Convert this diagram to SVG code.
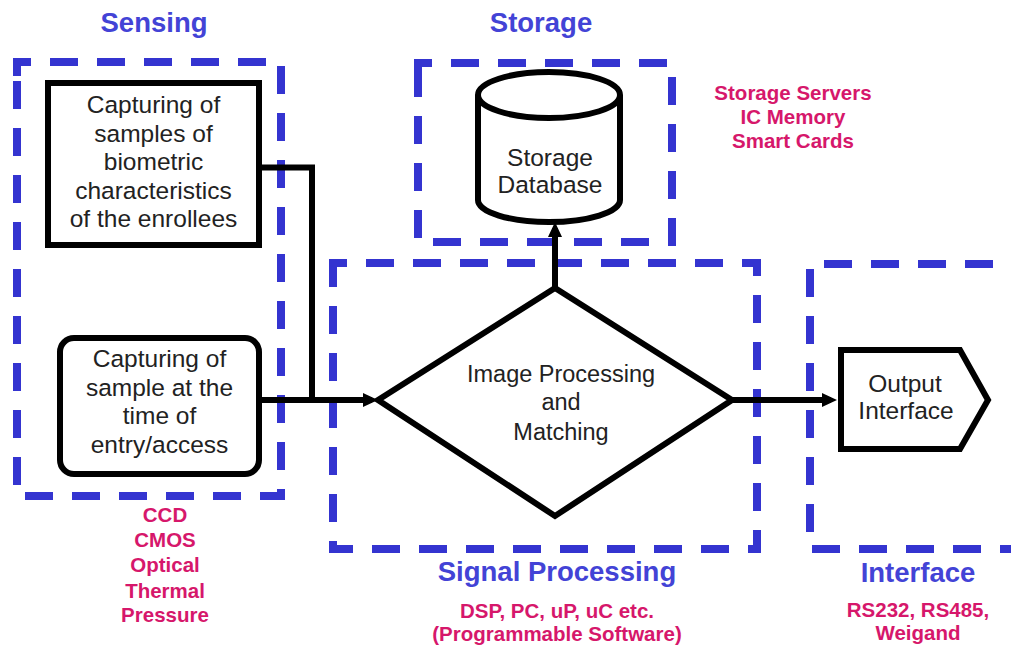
<svg xmlns="http://www.w3.org/2000/svg" width="1011" height="646" viewBox="0 0 1011 646">
  <style>
    .zone { fill: none; stroke: #3434d0; stroke-width: 8; stroke-dasharray: 28 19; }
    .shape { fill: #ffffff; stroke: #000000; stroke-width: 6; stroke-linejoin: miter; }
    .wire { fill: none; stroke: #000000; stroke-width: 6; }
    .txt { font-family: "Liberation Sans", Arial, sans-serif; font-size: 24.5px; fill: #222222; text-anchor: middle; }
    .head { font-family: "Liberation Sans", Arial, sans-serif; font-size: 27.5px; font-weight: bold; fill: #4343d6; text-anchor: middle; }
    .tech { font-family: "Liberation Sans", Arial, sans-serif; font-size: 20.5px; font-weight: bold; fill: #d6176b; text-anchor: middle; }
  </style>
  <defs>
    <marker id="arrow" markerUnits="userSpaceOnUse" markerWidth="16" markerHeight="16" refX="9" refY="7" orient="auto">
      <path d="M0,0 L15,7 L0,14 Z" fill="#000000"/>
    </marker>
  </defs>

  <rect width="1011" height="646" fill="#ffffff"/>

  <!-- dashed zones -->
  <g id="zones">
    <path class="zone" d="M17,76 L17,62 L281,62 L281,496 L17,496 Z"/>
    <path class="zone" d="M418,77 L418,63 L672,63 L672,242 L418,242 Z"/>
    <path class="zone" d="M333,277 L333,263 L757,263 L757,549 L333,549 Z"/>
    <path class="zone" d="M1040,264 L810,264 L810,549 L1040,549"/>
  </g>

  <!-- zone headings and technology lists -->
  <g id="labels">
    <text class="head" x="154" y="32">Sensing</text>
    <text class="head" x="541" y="32">Storage</text>
    <text class="head" x="557" y="581">Signal Processing</text>
    <text class="head" x="918" y="582">Interface</text>

    <text class="tech" x="793" y="100">Storage Servers</text>
    <text class="tech" x="793" y="124">IC Memory</text>
    <text class="tech" x="793" y="148">Smart Cards</text>

    <text class="tech" x="165" y="522">CCD</text>
    <text class="tech" x="165" y="547">CMOS</text>
    <text class="tech" x="165" y="572">Optical</text>
    <text class="tech" x="165" y="598">Thermal</text>
    <text class="tech" x="165" y="622">Pressure</text>

    <text class="tech" x="557" y="618">DSP, PC, uP, uC etc.</text>
    <text class="tech" x="557" y="641">(Programmable Software)</text>

    <text class="tech" x="918" y="617">RS232, RS485,</text>
    <text class="tech" x="918" y="640">Weigand</text>
  </g>

  <!-- connectors -->
  <g id="connectors">
    <path class="wire" d="M259,167.5 L312,167.5 L312,400"/>
    <path class="wire" d="M259,400 L372,400" marker-end="url(#arrow)"/>
    <path class="wire" d="M555,288 L555,228" marker-end="url(#arrow)"/>
    <path class="wire" d="M732,400 L831,400" marker-end="url(#arrow)"/>
  </g>

  <g id="enrollment-capture">
    <rect class="shape" x="48" y="83" width="211" height="162"/>
    <text class="txt" x="153.5" y="113">Capturing of</text>
    <text class="txt" x="153.5" y="141.5">samples of</text>
    <text class="txt" x="153.5" y="170">biometric</text>
    <text class="txt" x="153.5" y="198.5">characteristics</text>
    <text class="txt" x="153.5" y="227">of the enrollees</text>
  </g>

  <g id="access-capture">
    <rect class="shape" x="60" y="338" width="199" height="136" rx="14" ry="14"/>
    <text class="txt" x="159.5" y="367">Capturing of</text>
    <text class="txt" x="159.5" y="395.5">sample at the</text>
    <text class="txt" x="159.5" y="424">time of</text>
    <text class="txt" x="159.5" y="452.5">entry/access</text>
  </g>

  <g id="storage-database">
    <path class="shape" d="M478,95 L478,200 A71,22 0 0 0 620,200 L620,95 A71,23 0 0 0 478,95 Z"/>
    <path class="shape" d="M478,95 A71,23 0 0 0 620,95" fill="none"/>
    <text class="txt" x="550" y="166">Storage</text>
    <text class="txt" x="550" y="193">Database</text>
  </g>

  <g id="image-processing">
    <polygon class="shape" points="378,400 555,288 732,400 555,516"/>
    <text class="txt" x="561" y="382" style="font-size:23.5px">Image Processing</text>
    <text class="txt" x="561" y="410" style="font-size:23.5px">and</text>
    <text class="txt" x="561" y="440" style="font-size:23.5px">Matching</text>
  </g>

  <g id="output-interface">
    <polygon class="shape" points="841,350 960,350 988,400 960,449 841,449"/>
    <text class="txt" x="905" y="392">Output</text>
    <text class="txt" x="906" y="419">Interface</text>
  </g>
</svg>
